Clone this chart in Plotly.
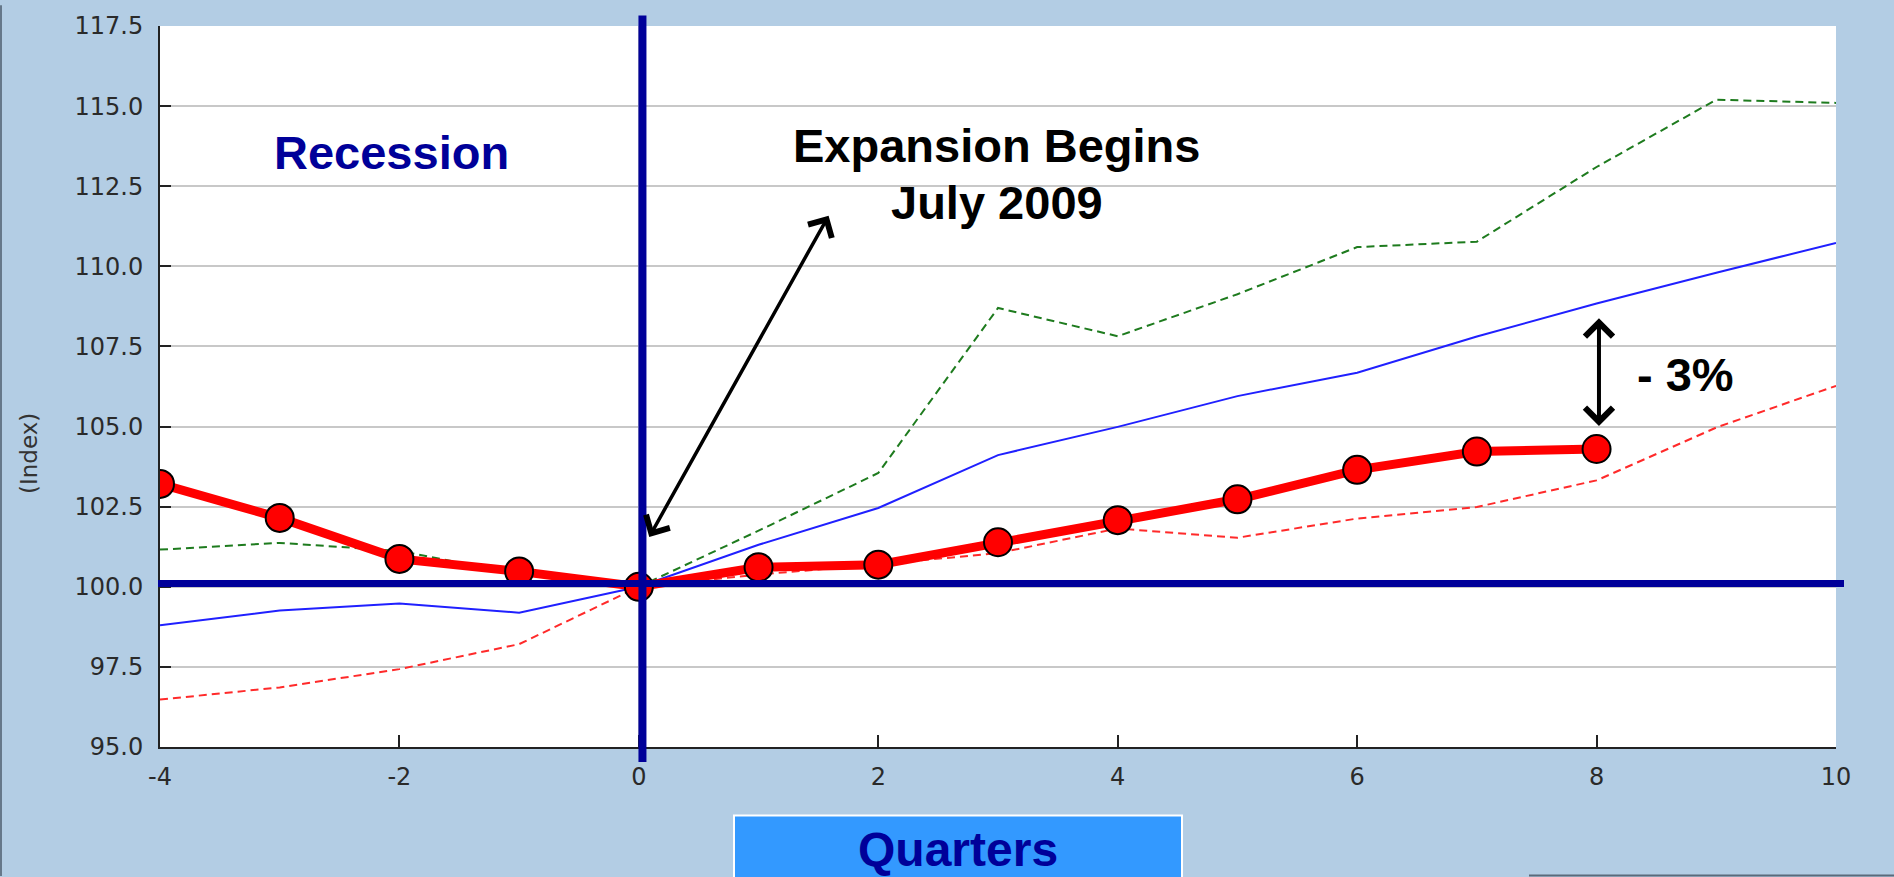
import plotly.graph_objects as go

# Quarters relative to the cycle trough (0 = July 2009)
quarters = [-4, -3, -2, -1, 0, 1, 2, 3, 4, 5, 6, 7, 8, 9, 10]

# Range of past expansions (index, trough = 100)
upper_band = [101.16, 101.37, 101.12, 100.40, 100.00, 101.75, 103.55, 108.70,
              107.82, 109.13, 110.60, 110.77, 113.10, 115.20, 115.10]
average_path = [98.80, 99.26, 99.48, 99.19, 100.00, 101.31, 102.46, 104.11,
                104.99, 105.95, 106.68, 107.81, 108.84, 109.80, 110.73]
lower_band = [96.48, 96.86, 97.43, 98.21, 100.00, 100.38, 100.70, 101.05,
              101.82, 101.53, 102.13, 102.49, 103.32, 104.97, 106.27]

# Current cycle, observed through quarter 8
current_quarters = [-4, -3, -2, -1, 0, 1, 2, 3, 4, 5, 6, 7, 8]
current_cycle = [103.21, 102.15, 100.87, 100.48, 100.00, 100.61, 100.69, 101.39,
                 102.08, 102.73, 103.65, 104.22, 104.30]

x_ticks = [-4, -2, 0, 2, 4, 6, 8, 10]
y_ticks = [95.0, 97.5, 100.0, 102.5, 105.0, 107.5, 110.0, 112.5, 115.0, 117.5]
x_range = [-4, 10]
y_range = [95.0, 117.5]

trough_quarter = 0.03
trough_level = 100.1

W, H = 1894, 877
ML, MR, MT, MB = 160, 58, 21, 130
PW, PH = W - ML - MR, H - MT - MB


def px_x(px):
    return (px - ML) / PW


def px_y(py):
    return (H - MB - py) / PH


NAVY = "#000099"
BG = "#B3CDE4"
BOLD = "Liberation Sans, Arial"

fig = go.Figure()

fig.add_trace(go.Scatter(
    x=quarters, y=upper_band, mode="lines",
    line=dict(color="#1E7B1E", width=2, dash="8px,5px"),
    showlegend=False, hoverinfo="skip"))
fig.add_trace(go.Scatter(
    x=quarters, y=average_path, mode="lines",
    line=dict(color="#2020FF", width=2),
    showlegend=False, hoverinfo="skip"))
fig.add_trace(go.Scatter(
    x=quarters, y=lower_band, mode="lines",
    line=dict(color="#FF2A2A", width=2, dash="8px,5px"),
    showlegend=False, hoverinfo="skip"))
fig.add_trace(go.Scatter(
    x=current_quarters, y=current_cycle, mode="lines+markers",
    line=dict(color="#FF0000", width=9),
    marker=dict(size=28, color="#FF0000", line=dict(color="#000000", width=2)),
    showlegend=False, hoverinfo="skip"))

shapes = [
    # trough markers
    dict(type="line", xref="x", yref="paper", x0=trough_quarter, x1=trough_quarter,
         y0=px_y(762), y1=px_y(10.5), line=dict(color=NAVY, width=8), layer="above"),
    dict(type="line", xref="paper", yref="y", x0=px_x(158), x1=px_x(1844),
         y0=trough_level, y1=trough_level, line=dict(color=NAVY, width=7), layer="above"),
    # "Quarters" caption box
    dict(type="rect", xref="paper", yref="paper", x0=px_x(734), x1=px_x(1182),
         y0=px_y(816), y1=px_y(890), fillcolor="#3399FF",
         line=dict(color="#FFFFFF", width=2), layer="above"),
    # page frame edges
    dict(type="line", xref="paper", yref="paper", x0=px_x(1), x1=px_x(1),
         y0=px_y(0), y1=px_y(H), line=dict(color="#66788A", width=2), layer="above"),
    dict(type="line", xref="paper", yref="paper", x0=px_x(1529), x1=px_x(W),
         y0=px_y(876.5), y1=px_y(876.5), line=dict(color="#5A6A7A", width=2), layer="above"),
]

annotations = [
    dict(text="<b>Recession</b>", x=-2.07, y=113.54, xref="x", yref="y",
         xanchor="center", yanchor="middle", showarrow=False,
         font=dict(family=BOLD, size=47, color=NAVY)),
    dict(text="<b>Expansion Begins</b>", x=2.99, y=113.77, xref="x", yref="y",
         xanchor="center", yanchor="middle", showarrow=False,
         font=dict(family=BOLD, size=47, color="#000000")),
    dict(text="<b>July 2009</b>", x=2.99, y=112.0, xref="x", yref="y",
         xanchor="center", yanchor="middle", showarrow=False,
         font=dict(family=BOLD, size=47, color="#000000")),
    dict(text="<b>- 3%</b>", x=8.74, y=106.62, xref="x", yref="y",
         xanchor="center", yanchor="middle", showarrow=False,
         font=dict(family=BOLD, size=47, color="#000000")),
    dict(text="<b>Quarters</b>", x=px_x(958), y=px_y(850), xref="paper", yref="paper",
         xanchor="center", yanchor="middle", showarrow=False,
         font=dict(family=BOLD, size=48, color=NAVY)),
    dict(text="(Index)", x=px_x(29), y=px_y(452), xref="paper", yref="paper",
         xanchor="center", yanchor="middle", showarrow=False, textangle=-90,
         font=dict(family="DejaVu Sans", size=23, color="#333333")),
    # arrow from trough up to the expansion label
    dict(x=1.585, y=111.58, ax=0.08, ay=101.51, xref="x", yref="y", axref="x", ayref="y",
         text="", showarrow=True, arrowside="end+start", arrowhead=4, startarrowhead=4,
         arrowsize=1.5, startarrowsize=1.5, arrowwidth=3.5, arrowcolor="#000000",
         standoff=0, startstandoff=0),
    # gap between average path and current cycle at quarter 8
    dict(x=8.02, y=108.38, ax=8.02, ay=104.97, xref="x", yref="y", axref="x", ayref="y",
         text="", showarrow=True, arrowside="end+start", arrowhead=4, startarrowhead=4,
         arrowsize=1.35, startarrowsize=1.35, arrowwidth=4, arrowcolor="#000000",
         standoff=0, startstandoff=0),
]

fig.update_layout(
    width=W, height=H,
    margin=dict(l=ML, r=MR, t=MT, b=MB, pad=0),
    paper_bgcolor=BG, plot_bgcolor="#FFFFFF",
    shapes=shapes, annotations=annotations,
    showlegend=False,
    xaxis=dict(
        range=x_range, tickvals=x_ticks, ticktext=[str(v) for v in x_ticks],
        showgrid=False, zeroline=True, zerolinecolor="#C8C8C8", zerolinewidth=2,
        showline=True, linecolor="#222222", linewidth=2,
        ticks="inside", ticklen=12, tickwidth=2, tickcolor="#222222",
        tickfont=dict(family="DejaVu Sans", size=24, color="#2A2A2A"),
        ticklabelstandoff=7, fixedrange=True),
    yaxis=dict(
        range=y_range, tickvals=y_ticks, ticktext=[f"{v:.1f}" for v in y_ticks],
        showgrid=True, gridcolor="#C8C8C8", gridwidth=2, zeroline=False,
        showline=True, linecolor="#222222", linewidth=2,
        ticks="inside", ticklen=11, tickwidth=2, tickcolor="#222222",
        tickfont=dict(family="DejaVu Sans", size=24, color="#2A2A2A"),
        ticklabelstandoff=10, fixedrange=True),
)

fig.write_html("out.html")
